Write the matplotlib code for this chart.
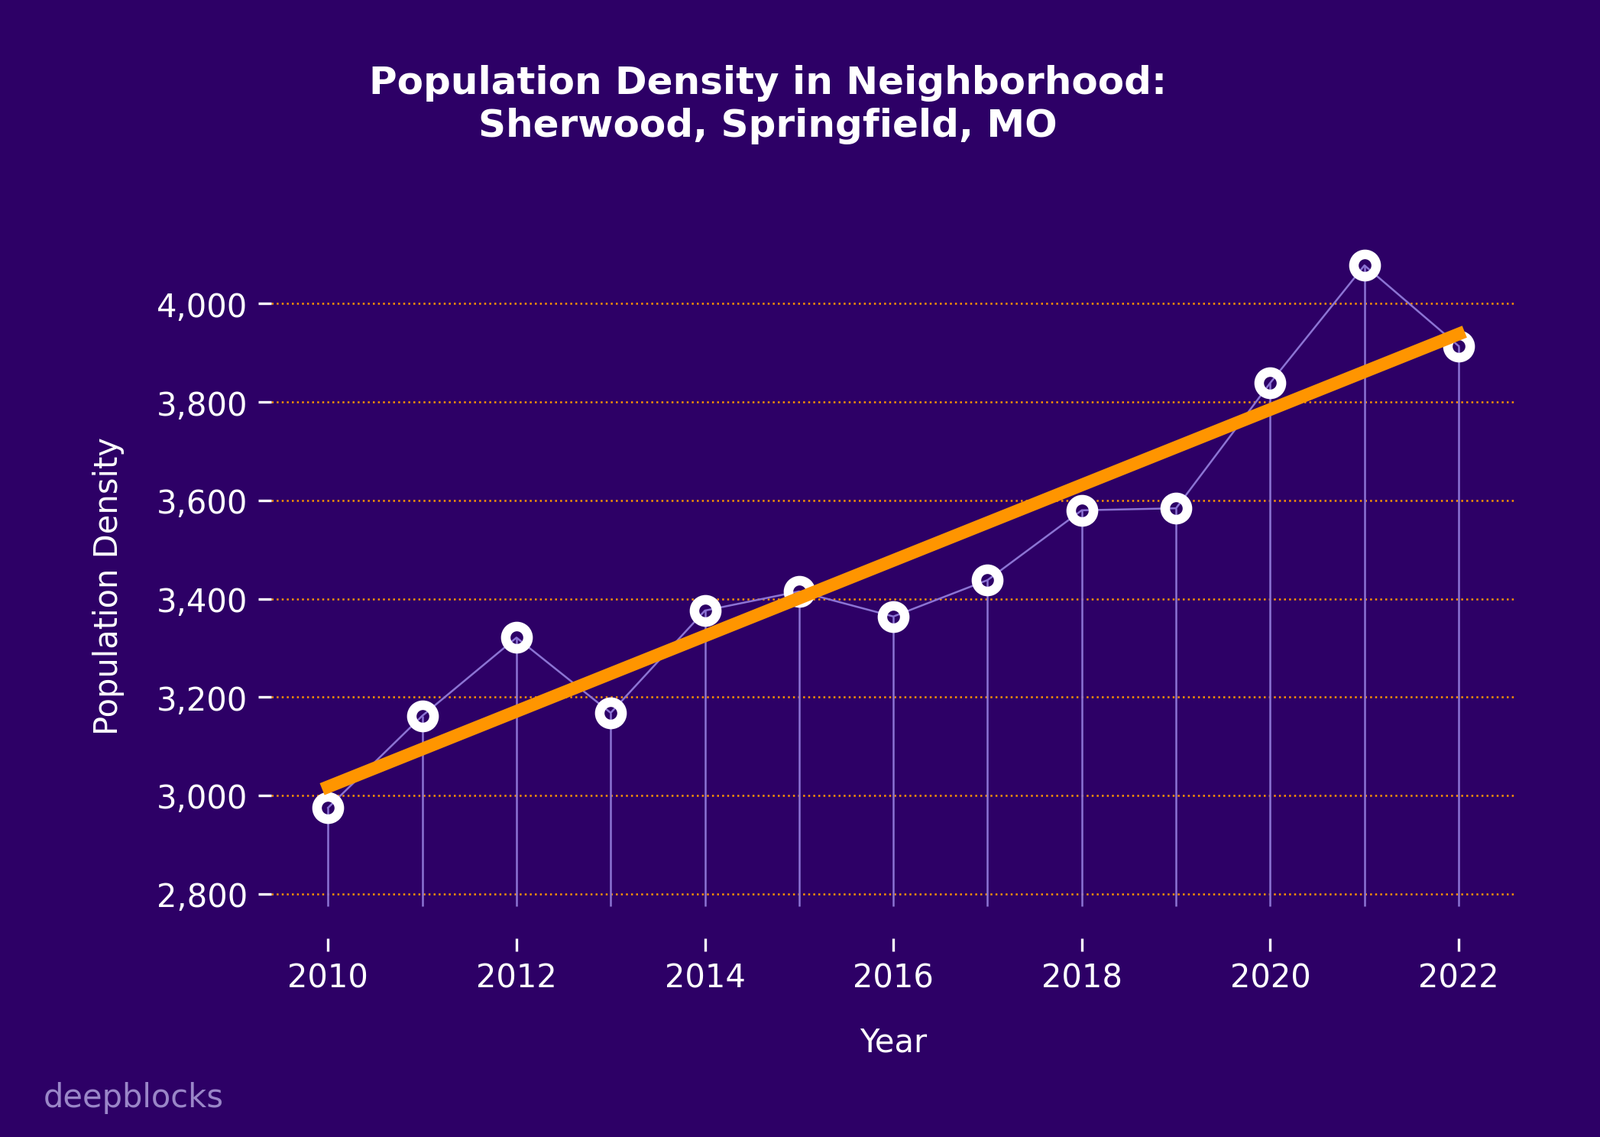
import numpy as np
import matplotlib
matplotlib.use("Agg")
import matplotlib.pyplot as plt
from matplotlib.ticker import FuncFormatter

years = [2010, 2011, 2012, 2013, 2014, 2015, 2016, 2017, 2018, 2019, 2020, 2021, 2022]
density = [2975, 3162, 3321, 3168, 3376, 3415, 3364, 3438, 3580, 3584, 3839, 4078, 3914]

bg = "#2d0066"
orange = "#ff9500"
purple = "#8c74d4"

fig = plt.figure(figsize=(6.98, 4.963), dpi=300, facecolor=bg)
ax = fig.add_axes([0.1697, 0.1748, 0.7773, 0.6195])
ax.set_facecolor(bg)

x = np.array(years)
y = np.array(density)

# stems from a bit below the lowest value
base = y.min() - 200
ax.vlines(x, base, y, color=purple, lw=0.6, zorder=2)
ax.plot(x, y, color=purple, lw=0.6, zorder=2)
ax.plot(x, y, 'o', ms=7.0, mfc='none', mec='white', mew=3.0, zorder=3)

# linear trend
m, b = np.polyfit(x, y, 1)
ax.plot(x, m * x + b, color=orange, lw=4, zorder=4)

ax.set_xticks(np.arange(2010, 2023, 2))
ax.set_yticks(np.arange(2800, 4001, 200))
ax.yaxis.set_major_formatter(FuncFormatter(lambda v, p: f"{int(v):,}"))
ax.grid(axis='y', color=orange, ls=':', lw=0.6)
ax.set_axisbelow(True)

for s in ax.spines.values():
    s.set_visible(False)
ax.tick_params(colors='white', labelsize=10, length=4, width=0.8)

ax.set_xlabel("Year", color='white', fontsize=10, labelpad=10)
ax.set_ylabel("Population Density", color='white', fontsize=10, labelpad=10)

fig.text(0.48, 0.908, "Population Density in Neighborhood:\nSherwood, Springfield, MO",
         color='white', fontsize=12, fontweight='bold', ha='center', va='center')
fig.text(0.027, 0.035, "deepblocks", color='#9a86c8', fontsize=10, ha='left', va='center')

fig.savefig("out.png", dpi=300, facecolor=bg)
